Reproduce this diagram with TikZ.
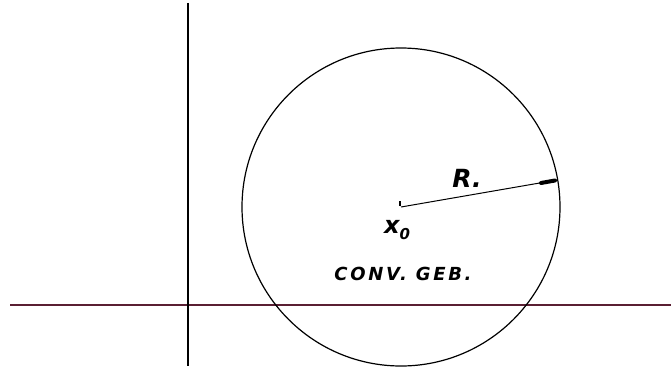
\documentclass[tikz,border=0pt]{standalone}
\usepackage{fontspec}
\setmainfont{DejaVu Sans}
\definecolor{axisred}{HTML}{5A1F33}
\begin{document}
\begin{tikzpicture}[x=1pt,y=-1pt,
  pen/.style={line width=1.2pt,black},
  hand/.style={font=\bfseries\itshape, inner sep=0pt}]
\useasboundingbox (0,0) rectangle (671,369);
\coordinate (hl) at (10,305);
\coordinate (hr) at (671,305);
\coordinate (vt) at (188,3);
\coordinate (vb) at (188,366);
\draw[line width=1.3pt,axisred] (hl) -- (hr);
\draw[pen] (vt) -- (vb);
\coordinate (c) at (401,207);
\draw[pen] (c) circle[radius=159];
\coordinate (rend) at (557,180);
\coordinate (rb) at (541,183);
\draw[line width=1pt] (c) -- (rend);
\draw[line width=4pt,line cap=round] (rb) -- (555,180.5);
\draw[line width=1.4pt] (400,201) -- (400,206);
\node[hand,font=\fontsize{25}{25}\selectfont\bfseries\itshape] (R) at (467,178) {R.};
\node[hand,font=\fontsize{24}{24}\selectfont\bfseries\itshape] (x0) at (397,230) {x\raisebox{-6pt}{\fontsize{15}{15}\selectfont 0}};
\node[hand,font=\fontsize{18}{18}\selectfont\bfseries\itshape\addfontfeature{LetterSpace=15}] (cg) at (403,274) {CONV. GEB.};
\end{tikzpicture}
\end{document}
